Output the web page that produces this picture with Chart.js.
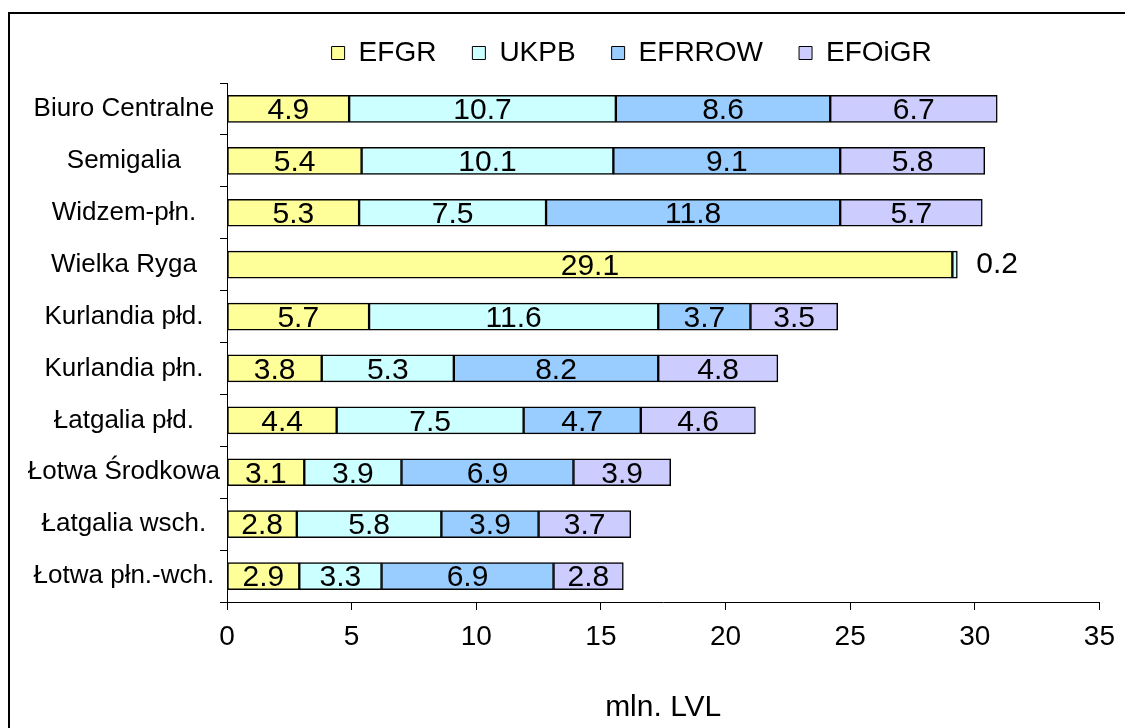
<!DOCTYPE html>
<html>
<head>
<meta charset="utf-8">
<script src="https://cdn.jsdelivr.net/npm/chart.js@4.4.1/dist/chart.umd.min.js"></script>
<style>
    html, body { margin: 0; padding: 0; background: #ffffff; }
    #wrap { position: relative; width: 1125px; height: 728px; }
</style>
</head>
<body>
<div id="wrap"><canvas id="regionChart" width="1125" height="728"></canvas></div>
<script>
const regions = ['Biuro Centralne', 'Semigalia', 'Widzem-płn.', 'Wielka Ryga', 'Kurlandia płd.',
    'Kurlandia płn.', 'Łatgalia płd.', 'Łotwa Środkowa', 'Łatgalia wsch.', 'Łotwa płn.-wch.'];
const efgr = [4.9, 5.4, 5.3, 29.1, 5.7, 3.8, 4.4, 3.1, 2.8, 2.9];
const ukpb = [10.7, 10.1, 7.5, 0.2, 11.6, 5.3, 7.5, 3.9, 5.8, 3.3];
const efrrow = [8.6, 9.1, 11.8, null, 3.7, 8.2, 4.7, 6.9, 3.9, 6.9];
const efoigr = [6.7, 5.8, 5.7, null, 3.5, 4.8, 4.6, 3.9, 3.7, 2.8];
const seriesNames = ['EFGR', 'UKPB', 'EFRROW', 'EFOiGR'];
const xTicks = [0, 5, 10, 15, 20, 25, 30, 35];

const fontFamily = '"Liberation Sans", Arial, sans-serif';

document.addEventListener('DOMContentLoaded', function () {
    const ctx = document.getElementById('regionChart').getContext('2d');

    // outer frame + white background
    const framePlugin = {
        id: 'frame',
        beforeDraw(chart) {
            const c = chart.ctx;
            c.save();
            c.fillStyle = '#ffffff';
            c.fillRect(0, 0, chart.width, chart.height);
            c.strokeStyle = '#000000';
            c.lineWidth = 2;
            c.strokeRect(9, 13, chart.width + 50, chart.height + 50);
            c.restore();
        }
    };

    // value labels inside the segments
    const valueLabels = {
        id: 'valueLabels',
        afterDatasetsDraw(chart) {
            const c = chart.ctx;
            c.save();
            c.font = '30px ' + fontFamily;
            c.fillStyle = '#000000';
            c.textBaseline = 'middle';
            chart.data.datasets.forEach((ds, i) => {
                const meta = chart.getDatasetMeta(i);
                meta.data.forEach((bar, j) => {
                    const v = ds.data[j];
                    if (v === null || v === undefined) return;
                    const text = v.toFixed(1);
                    const w = Math.abs(bar.x - bar.base);
                    if (w < c.measureText(text).width) {
                        c.textAlign = 'left';
                        c.fillText(text, Math.max(bar.x, bar.base) + 19, bar.y);
                    } else {
                        c.textAlign = 'center';
                        c.fillText(text, (bar.x + bar.base) / 2, bar.y + 2);
                    }
                });
            });
            c.restore();
        }
    };

    const colours = ['#FFFF99', '#CCFFFF', '#99CCFF', '#CCCCFF'];
    const values = [efgr, ukpb, efrrow, efoigr];

    new Chart(ctx, {
        type: 'bar',
        data: {
            labels: regions,
            datasets: seriesNames.map((name, i) => ({
                label: name,
                data: values[i],
                backgroundColor: colours[i],
                borderColor: '#000000',
                borderWidth: 1.5,
                borderSkipped: false,
                barThickness: 27
            }))
        },
        options: {
            indexAxis: 'y',
            responsive: false,
            animation: false,
            layout: { padding: { top: 3, left: 0, right: 24, bottom: 0 } },
            scales: {
                x: {
                    stacked: true,
                    min: 0,
                    max: 35,
                    afterBuildTicks: (scale) => { scale.ticks = xTicks.map(v => ({ value: v })); },
                    afterFit: (scale) => { scale.height = 126; },
                    grid: { drawOnChartArea: false, tickLength: 8, color: '#000000', tickColor: '#000000' },
                    border: { display: true, color: '#000000', width: 1 },
                    ticks: { color: '#000000', padding: 10, font: { family: fontFamily, size: 28 } },
                    title: {
                        display: true,
                        text: 'mln. LVL',
                        color: '#000000',
                        padding: { top: 30, bottom: 2 },
                        font: { family: fontFamily, size: 30 }
                    }
                },
                y: {
                    stacked: true,
                    afterFit: (scale) => { scale.width = 227; },
                    grid: { drawOnChartArea: false, offset: true, tickLength: 7, color: '#000000', tickColor: '#000000' },
                    border: { display: true, color: '#000000', width: 1 },
                    ticks: { color: '#000000', padding: 0, crossAlign: 'center', autoSkip: false, font: { family: fontFamily, size: 26 } }
                }
            },
            plugins: {
                legend: {
                    position: 'top',
                    fullSize: false,
                    labels: {
                        color: '#000000',
                        boxWidth: 13,
                        boxHeight: 13,
                        padding: 36,
                        font: { family: fontFamily, size: 28 },
                        generateLabels: (chart) => {
                            const items = Chart.defaults.plugins.legend.labels.generateLabels(chart);
                            items.forEach(it => { it.lineWidth = 1; });
                            // empty trailing slot, like the spare column in the original legend
                            items.push({ text: '', fillStyle: 'rgba(0,0,0,0)', strokeStyle: 'rgba(0,0,0,0)', lineWidth: 0, hidden: false, datasetIndex: 99 });
                            return items;
                        }
                    }
                },
                subtitle: {
                    display: true,
                    text: '',
                    weight: 500,
                    padding: 0,
                    font: { size: 5 }
                },
                tooltip: { enabled: false }
            }
        },
        plugins: [framePlugin, valueLabels]
    });
});
</script>
</body>
</html>
